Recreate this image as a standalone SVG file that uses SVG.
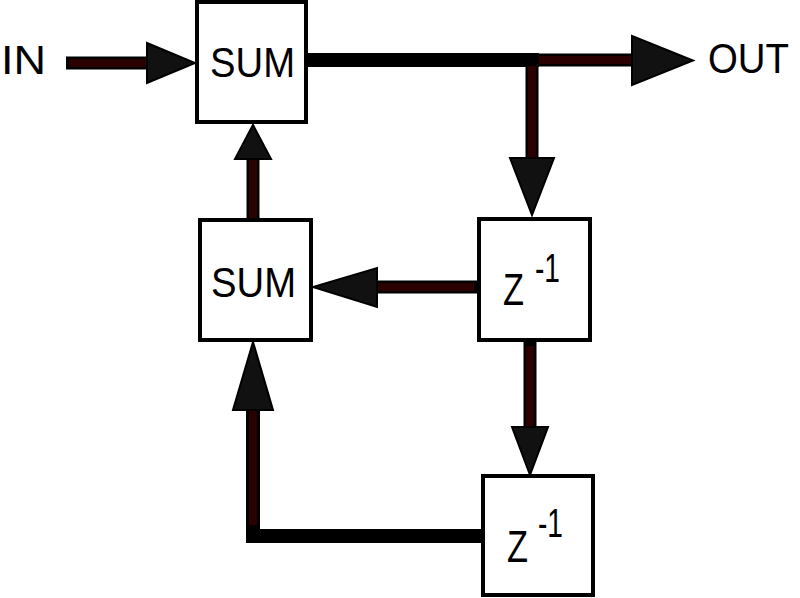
<svg xmlns="http://www.w3.org/2000/svg" width="800" height="598" viewBox="0 0 800 598">
<style>
.box{fill:#fff;stroke:#000;stroke-width:4}
.wo{stroke:#000;stroke-width:13;fill:none}
.wb{stroke:#000;stroke-width:14;fill:none}
.wi{stroke:#2b0000;stroke-width:8;fill:none}
.head{fill:#111;stroke:#000;stroke-width:2;stroke-linejoin:miter}
.t{font-family:"Liberation Sans",Arial,sans-serif;fill:#000}
</style>
<rect width="800" height="598" fill="#fff"/>
<g id="connectors">
  <line class="wo" x1="66" y1="63" x2="150" y2="63"/>
  <line class="wi" x1="69" y1="63" x2="150" y2="63"/>
  <polygon class="head" points="147,43 195,63 147,83"/>
  <line class="wb" x1="308" y1="60" x2="539" y2="60"/>
  <line class="wo" x1="532" y1="60" x2="634" y2="60"/>
  <line class="wi" x1="539" y1="60" x2="634" y2="60"/>
  <polygon class="head" points="632,36 693,60.5 632,85"/>
  <line class="wo" x1="532" y1="60" x2="532" y2="160"/>
  <line class="wi" x1="532" y1="66" x2="532" y2="160"/>
  <polygon class="head" points="510,158 554,158 532,215"/>
  <line class="wo" x1="477" y1="287" x2="375" y2="287"/>
  <line class="wi" x1="474" y1="287" x2="375" y2="287"/>
  <polygon class="head" points="377,268 377,307 313,287"/>
  <line class="wo" x1="253" y1="220" x2="253" y2="157"/>
  <line class="wi" x1="253" y1="218" x2="253" y2="157"/>
  <polygon class="head" points="235,159 271,159 253,125"/>
  <line class="wo" x1="530" y1="342" x2="530" y2="429"/>
  <line class="wi" x1="530" y1="346" x2="530" y2="429"/>
  <polygon class="head" points="512,427 548,427 530,475"/>
  <line class="wb" x1="483" y1="536" x2="246" y2="536"/>
  <line class="wb" x1="253" y1="543" x2="253" y2="408"/>
  <line class="wi" x1="253" y1="525" x2="253" y2="408"/>
  <polygon class="head" points="233,410 273,410 253,342"/>
</g>
<g id="in-label"><text class="t" x="1" y="74" font-size="40" textLength="45" lengthAdjust="spacingAndGlyphs">IN</text></g>
<g id="out-label"><text class="t" x="708" y="73" font-size="43" textLength="81" lengthAdjust="spacingAndGlyphs">OUT</text></g>
<g id="sum1">
  <rect class="box" x="197" y="2" width="109" height="120"/>
  <text class="t" x="210" y="77" font-size="43" textLength="85" lengthAdjust="spacingAndGlyphs">SUM</text>
</g>
<g id="sum2">
  <rect class="box" x="200" y="220" width="111" height="120"/>
  <text class="t" x="211" y="297" font-size="43" textLength="85" lengthAdjust="spacingAndGlyphs">SUM</text>
</g>
<g id="z1">
  <rect class="box" x="479" y="219" width="111" height="121"/>
  <text class="t" x="503" y="305" font-size="45" textLength="21" lengthAdjust="spacingAndGlyphs">Z</text>
  <text class="t" x="535" y="282" font-size="41" textLength="25" lengthAdjust="spacingAndGlyphs">-1</text>
</g>
<g id="z2">
  <rect class="box" x="483" y="476" width="110" height="119"/>
  <text class="t" x="507" y="562" font-size="45" textLength="21" lengthAdjust="spacingAndGlyphs">Z</text>
  <text class="t" x="538" y="537" font-size="41" textLength="25" lengthAdjust="spacingAndGlyphs">-1</text>
</g>
</svg>
